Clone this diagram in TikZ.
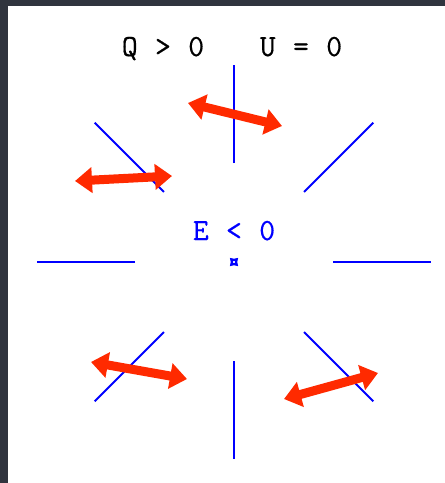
\documentclass[tikz,border=0pt]{standalone}
\usepackage{fontspec}
\usetikzlibrary{arrows.meta, shapes.geometric, calc}
\newfontfamily\polfont[LetterSpace=5, FakeBold=0.5]{Latin Modern Mono}
\definecolor{PolRed}{HTML}{FF2A00}
\definecolor{FieldBlue}{HTML}{0000FF}
\definecolor{FrameDark}{HTML}{30343E}

\begin{document}
\begin{tikzpicture}[
    x=0.02cm, y=-0.02cm,
    tick/.style={draw=FieldBlue, line width=1.15pt},
    pol/.style={{Triangle[length=0.34cm, width=0.5cm]}-{Triangle[length=0.34cm, width=0.5cm]}, line width=0.18cm, PolRed},
    lab/.style={font=\polfont\fontsize{17.5}{20}\selectfont, inner sep=0pt, anchor=base}
  ]
    \useasboundingbox (0,0) rectangle (445,483);
    \fill[FrameDark] (0,0) rectangle (445,483);
    \fill[white] (8,6) rectangle (445,483);

    % Stokes parameters
    \node[lab] (qsign) at (163,56) {Q > 0};
    \node[lab] (usign) at (301,56) {U = 0};

    % source and radial field lines
    \node[star, star points=4, star point ratio=1.8, draw=FieldBlue, line width=1.3pt,
      minimum size=0.15cm, inner sep=0pt, rotate=45] (src) at (234,262) {};
    \node[lab, text=FieldBlue] (esign) at (234,240) {E < 0};
    \foreach \a in {0,45,...,315}
      \draw[tick] ($(src.center)+(\a:99)$) -- ($(src.center)+(\a:197)$);

    % polarization directions
    \coordinate (pa1) at (188,103);
    \coordinate (pa2) at (282,126);
    \coordinate (pb1) at (75,181);
    \coordinate (pb2) at (172,176);
    \coordinate (pc1) at (91,362);
    \coordinate (pc2) at (187,379);
    \coordinate (pd1) at (284,399);
    \coordinate (pd2) at (378,373);
    \draw[pol] (pa1) -- (pa2);
    \draw[pol] (pb1) -- (pb2);
    \draw[pol] (pc1) -- (pc2);
    \draw[pol] (pd1) -- (pd2);
\end{tikzpicture}
\end{document}
